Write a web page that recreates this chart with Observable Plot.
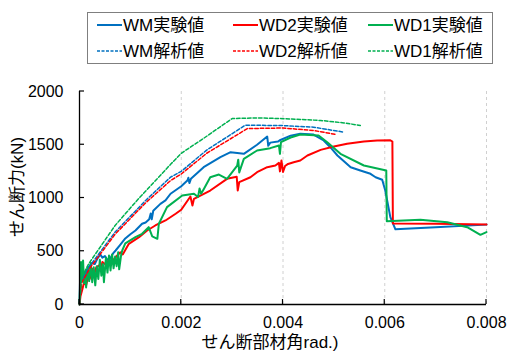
<!DOCTYPE html>
<html><head><meta charset="utf-8">
<script src="https://cdn.jsdelivr.net/npm/d3@7"></script>
<script src="https://cdn.jsdelivr.net/npm/@observablehq/plot@0.6"></script>
<style>
body{margin:0;background:#fff;}
#chart{position:relative;width:509px;height:353px;}
</style></head><body><div id="chart"></div>
<script>
const xTicks = [0, 0.002, 0.004, 0.006, 0.008];
const yTicks = [0, 500, 1000, 1500, 2000];
const xLabel = "せん断部材角rad.)";
const yLabel = "せん断力(kN)";
const names = ["WM実験値", "WD2実験値", "WD1実験値", "WM解析値", "WD2解析値", "WD1解析値"];
const colors = ["#0070C0", "#FF0000", "#00B050"];

const wmExp = [[0,0],[0.00001,210],[0.00005,260],[0.0001,300],[0.00018,350],[0.00025,390],[0.0003,380],[0.00035,430],[0.00041,470],[0.00045,440],[0.0005,455],[0.00055,420],[0.0006,430],[0.00066,480],[0.00071,507],[0.0008,560],[0.0009,620],[0.001,660],[0.0011,695],[0.00123,758],[0.0013,770],[0.00137,800],[0.0014,854],[0.00142,800],[0.00145,880],[0.00159,945],[0.00169,977],[0.00179,1040],[0.002,1110],[0.00212,1164],[0.00214,1190],[0.00216,1140],[0.00219,1180],[0.00244,1289],[0.00277,1383],[0.00297,1430],[0.00323,1415],[0.00349,1500],[0.00369,1577],[0.00371,1490],[0.00375,1520],[0.0039,1530],[0.00395,1545],[0.00415,1585],[0.00434,1603],[0.0046,1596],[0.0048,1540],[0.00493,1477],[0.00507,1399],[0.00533,1289],[0.00552,1258],[0.00572,1227],[0.00582,1195],[0.00595,1171],[0.00601,1070],[0.00611,820],[0.00621,706],[0.007,725],[0.008,750]];

const wd2Exp = [[0,0],[0.00002,80],[0.00005,131],[0.0001,225],[0.00013,180],[0.00017,260],[0.0002,240],[0.00025,335],[0.0003,300],[0.00033,350],[0.00038,366],[0.00042,330],[0.00045,400],[0.0005,380],[0.00058,413],[0.00064,400],[0.00071,444],[0.0008,490],[0.00085,470],[0.00097,570],[0.00117,632],[0.00133,695],[0.00149,742],[0.00169,789],[0.00189,852],[0.002,890],[0.00218,1014],[0.00222,930],[0.00225,992],[0.00257,1070],[0.0029,1180],[0.00309,1200],[0.00311,1070],[0.00314,1149],[0.00336,1195],[0.00349,1242],[0.00369,1289],[0.00385,1305],[0.00392,1330],[0.00394,1250],[0.00397,1352],[0.004,1245],[0.00404,1300],[0.0041,1320],[0.00421,1336],[0.00434,1352],[0.00448,1399],[0.00474,1452],[0.005,1483],[0.00526,1509],[0.00559,1530],[0.00585,1540],[0.00611,1542],[0.00615,1530],[0.00616,760],[0.007,758],[0.008,752]];

const wd1Exp = [[0,0],[0.00001,150],[0.00003,400],[0.00005,230],[0.00007,413],[0.00009,200],[0.00011,300],[0.00013,160],[0.00016,350],[0.00019,220],[0.00022,390],[0.00025,210],[0.00028,350],[0.00031,180],[0.00034,360],[0.00037,240],[0.0004,420],[0.00043,270],[0.00046,380],[0.00048,210],[0.00052,440],[0.00055,300],[0.00058,460],[0.00061,320],[0.00064,470],[0.00067,340],[0.0007,450],[0.00073,360],[0.00076,490],[0.00078,330],[0.00082,470],[0.00084,507],[0.0009,573],[0.0011,632],[0.00123,664],[0.00136,726],[0.00143,640],[0.00153,617],[0.00156,758],[0.00172,914],[0.00202,1024],[0.00225,1040],[0.00233,1010],[0.00236,1090],[0.00239,1040],[0.00245,1090],[0.00257,1195],[0.00274,1220],[0.0029,1180],[0.0031,1305],[0.00312,1360],[0.00314,1240],[0.00323,1368],[0.00349,1446],[0.00375,1468],[0.00392,1493],[0.00394,1415],[0.00396,1524],[0.00415,1568],[0.00434,1596],[0.0047,1587],[0.00487,1524],[0.00513,1415],[0.00559,1305],[0.00603,1258],[0.00604,782],[0.0067,795],[0.00723,773],[0.00762,726],[0.00788,654],[0.008,680]];

const wmAna = [[0,0],[0.00004,220],[0.0002,360],[0.0007,680],[0.0013,977],[0.00179,1196],[0.002,1250],[0.0025,1450],[0.00326,1684],[0.004,1680],[0.0046,1665],[0.0052,1618]];
const wd2Ana = [[0,0],[0.00004,200],[0.0002,340],[0.0007,660],[0.0013,955],[0.00179,1164],[0.002,1225],[0.0025,1420],[0.0033,1652],[0.004,1657],[0.0046,1634],[0.00505,1596]];
const wd1Ana = [[0,0],[0.00004,250],[0.00018,382],[0.0007,742],[0.00113,977],[0.0018,1321],[0.002,1420],[0.00244,1560],[0.003,1746],[0.0035,1752],[0.004,1745],[0.00474,1728],[0.0052,1705],[0.00552,1681]];

const series = [
  {name: names[0], data: wmExp, color: colors[0], dashed: false},
  {name: names[1], data: wd2Exp, color: colors[1], dashed: false},
  {name: names[2], data: wd1Exp, color: colors[2], dashed: false},
  {name: names[3], data: wmAna, color: colors[0], dashed: true},
  {name: names[4], data: wd2Ana, color: colors[1], dashed: true},
  {name: names[5], data: wd1Ana, color: colors[2], dashed: true}
];

const font = "'Liberation Sans', 'Noto Sans CJK JP', Arial, sans-serif";

const plot = Plot.plot({
  width: 509, height: 353,
  marginLeft: 79, marginRight: 23, marginTop: 91, marginBottom: 49,
  style: {fontFamily: font, fontSize: "16px", background: "#fff", color: "#000", overflow: "visible"},
  x: {domain: [0, 0.008]},
  y: {domain: [0, 2000]},
  marks: [
    Plot.gridX(xTicks.slice(1), {stroke: "#d0d0d0", strokeOpacity: 1, strokeDasharray: "3,3"}),
    Plot.axisX(xTicks, {tickSize: 0, tickPadding: 12, tickFormat: d => String(d), label: null, fontSize: 16}),
    Plot.axisY(yTicks, {tickSize: 0, tickPadding: 16, tickFormat: d => String(d), label: null, fontSize: 16}),
    ...series.map(s => Plot.line(s.data, {
      x: d => d[0], y: d => d[1], stroke: s.color,
      strokeWidth: s.dashed ? 1.5 : 2,
      strokeDasharray: s.dashed ? "3.5,2" : null,
      strokeLinejoin: "round"
    })),
    Plot.ruleX([0], {stroke: "#000", strokeWidth: 1.3}),
    Plot.ruleY([0], {stroke: "#000", strokeWidth: 1.3})
  ]
});
document.getElementById("chart").appendChild(plot);

const svg = d3.select(plot);
const sx = plot.scale("x"), sy = plot.scale("y");
const x0px = sx.apply(0), y0px = sy.apply(0);
// inward tick marks
const tg = svg.append("g").attr("stroke", "#000").attr("stroke-width", 1.2);
yTicks.forEach(v => {
  const py = sy.apply(v);
  tg.append("line").attr("x1", x0px).attr("x2", x0px + 5).attr("y1", py).attr("y2", py);
});
xTicks.forEach(v => {
  const px = sx.apply(v);
  tg.append("line").attr("x1", px).attr("x2", px).attr("y1", y0px).attr("y2", y0px - 5);
});
// axis titles
svg.append("text").attr("transform", "translate(17,187) rotate(-90)")
  .attr("text-anchor", "middle").attr("dominant-baseline", "central")
  .style("font-size", "17px").style("font-family", font).attr("fill", "#000").text(yLabel);
svg.append("text").attr("x", 270).attr("y", 342)
  .attr("text-anchor", "middle").attr("dominant-baseline", "central")
  .style("font-size", "17px").style("font-family", font).attr("fill", "#000").text(xLabel);

// legend
const lg = svg.append("g");
lg.append("rect").attr("x", 87.5).attr("y", 12.5).attr("width", 405).attr("height", 51)
  .attr("fill", "#fff").attr("stroke", "#7f7f7f").attr("stroke-width", 1);
const colX = [97, 233, 368];
const rowY = [25, 51];
series.forEach((s, i) => {
  const c = i % 3, r = s.dashed ? 1 : 0;
  const xa = colX[c], ya = rowY[r];
  lg.append("line").attr("x1", xa).attr("x2", xa + 25).attr("y1", ya).attr("y2", ya)
    .attr("stroke", s.color).attr("stroke-width", s.dashed ? 1.5 : 2)
    .attr("stroke-dasharray", s.dashed ? "3,1.5" : null);
  lg.append("text").attr("x", xa + 26).attr("y", ya).attr("dominant-baseline", "central")
    .attr("text-anchor", "start")
    .style("font-size", "17px").style("font-family", font).attr("fill", "#000").text(s.name);
});
</script></body></html>
